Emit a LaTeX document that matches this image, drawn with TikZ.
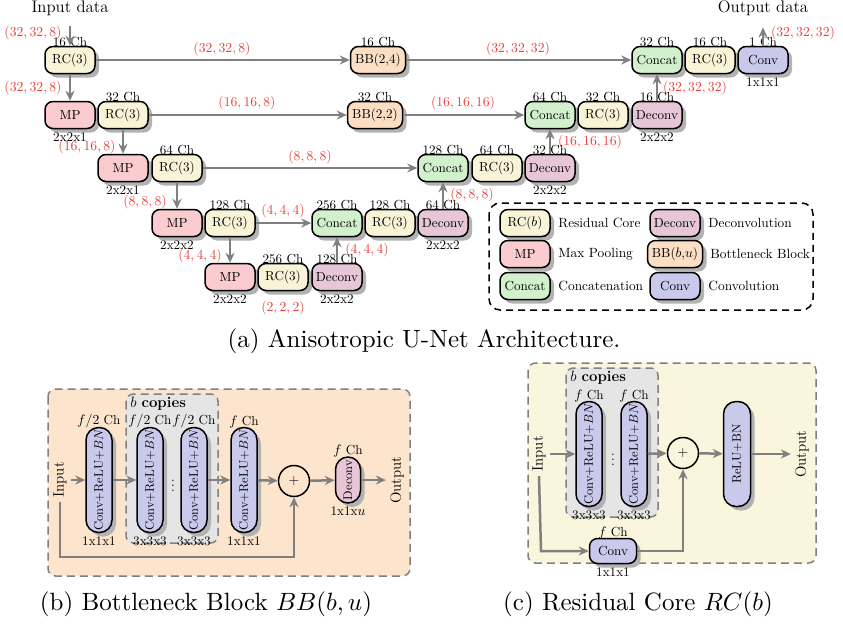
\documentclass[tikz,border=0pt]{standalone}
\usetikzlibrary{arrows.meta}
\usetikzlibrary{shadows}

% colours of the blocks
\definecolor{rccol}{RGB}{249,243,215}
\definecolor{mpcol}{RGB}{250,203,207}
\definecolor{bbcol}{RGB}{252,222,196}
\definecolor{catcol}{RGB}{211,240,205}
\definecolor{deccol}{RGB}{231,199,215}
\definecolor{convcol}{RGB}{201,201,236}
\definecolor{flowgray}{RGB}{128,128,128}
\definecolor{sizered}{RGB}{232,64,60}
\definecolor{bbpanel}{RGB}{252,228,205}
\definecolor{rcpanel}{RGB}{250,245,221}
\definecolor{copiesgray}{RGB}{229,229,229}

\newcommand{\nodefont}{\fontsize{10.5}{12}\selectfont}
\newcommand{\notefont}{\fontsize{10.7}{12.5}\selectfont}
\newcommand{\datafont}{\fontsize{13.4}{15}\selectfont}
\newcommand{\panelfont}{\fontsize{12}{14}\selectfont}

\tikzset{
%Define standard arrow tip
>={Stealth[length=8pt,width=7.2pt]},
%Define styles for the blocks
block/.style={draw, line width=1.2pt, rounded corners=6.4pt, minimum width=40pt,
  minimum height=21.6pt, inner sep=1pt, font=\nodefont,
  drop shadow={shadow xshift=3.2pt, shadow yshift=-3.2pt, fill=black!30, opacity=1}},
rcblock/.style={block, fill=rccol},
mpblock/.style={block, fill=mpcol},
bbblock/.style={block, fill=bbcol, minimum width=44pt},
catblock/.style={block, fill=catcol},
decblock/.style={block, fill=deccol},
convblock/.style={block, fill=convcol},
tallblock/.style={block, fill=convcol, minimum width=20.8pt, minimum height=84pt, rounded corners=10pt, font=\fontsize{10}{12}\selectfont},
%Define style for the labels
ch/.style={label={[label distance=-4.4pt, font=\nodefont]above:#1}},
kern/.style={label={[label distance=-1pt, font=\nodefont]below:#1}},
size/.style={text=sizered, font=\notefont},
note/.style={font=\notefont, anchor=west},
dots/.style={font=\nodefont, inner sep=0pt},
flow/.style={->, draw=flowgray, line width=2pt},
panel/.style={draw=flowgray, dash pattern=on 6.4pt off 4pt, line width=1.2pt, rounded corners=6pt},
plus/.style={draw, circle, line width=1.2pt, minimum size=24.8pt, inner sep=0pt, font=\nodefont},
}

\begin{document}
\begin{tikzpicture}[x=0.8pt, y=-0.8pt]
\useasboundingbox (0,0) rectangle (843,624);

% input and output
\node[font=\datafont] (indata) at (70,8) {Input data};
\node[font=\datafont] (outdata) at (763,8) {Output data};

% level 1
\node[rcblock, ch=16 Ch] (rc1) at (70,60) {RC(3)};
\node[bbblock, ch=16 Ch] (bb1) at (378,60) {BB(2,4)};
\node[catblock, ch=32 Ch] (cat1) at (657,60) {Concat};
\node[rcblock, ch=16 Ch] (rcup1) at (710,60) {RC(3)};
\node[convblock, ch=1 Ch, kern=1x1x1] (conv1) at (763,60) {Conv};

% level 2
\node[mpblock, kern=2x2x1] (mp2) at (70,115) {MP};
\node[rcblock, ch=32 Ch] (rc2) at (123,115) {RC(3)};
\node[bbblock, ch=32 Ch] (bb2) at (375,115) {BB(2,2)};
\node[catblock, ch=64 Ch] (cat2) at (550,115) {Concat};
\node[rcblock, ch=32 Ch] (rcup2) at (603,115) {RC(3)};
\node[decblock, ch=16 Ch, kern=2x2x2] (dec2) at (657,115) {Deconv};

% level 3
\node[mpblock, kern=2x2x1] (mp3) at (123,168) {MP};
\node[rcblock, ch=64 Ch] (rc3) at (177,168) {RC(3)};
\node[catblock, ch=128 Ch] (cat3) at (443,168) {Concat};
\node[rcblock, ch=64 Ch] (rcup3) at (497,168) {RC(3)};
\node[decblock, ch=32 Ch, kern=2x2x2] (dec3) at (550,168) {Deconv};

% level 4
\node[mpblock, kern=2x2x2] (mp4) at (177,223) {MP};
\node[rcblock, ch=128 Ch] (rc4) at (230,223) {RC(3)};
\node[catblock, ch=256 Ch] (cat4) at (337,223) {Concat};
\node[rcblock, ch=128 Ch] (rcup4) at (390,223) {RC(3)};
\node[decblock, ch=64 Ch, kern=2x2x2] (dec4) at (443,223) {Deconv};

% level 5
\node[mpblock, kern=2x2x2] (mp5) at (230,277) {MP};
\node[rcblock, ch=256 Ch] (rc5) at (283,277) {RC(3)};
\node[decblock, ch=128 Ch, kern=2x2x2] (dec5) at (337,277) {Deconv};

% down and up
\draw[flow, shorten <=5pt] (indata) -- (rc1);
\draw[flow] (rc1) -- (mp2);
\draw[flow] (rc2) -- (mp3);
\draw[flow] (rc3) -- (mp4);
\draw[flow] (rc4) -- (mp5);
\draw[flow] (dec5) -- (cat4);
\draw[flow] (dec4) -- (cat3);
\draw[flow] (dec3) -- (cat2);
\draw[flow] (dec2) -- (cat1);
\draw[flow, shorten >=6pt] (conv1) -- (outdata);

% skip connections
\draw[flow] (rc1) -- (bb1);
\draw[flow] (bb1) -- (cat1);
\draw[flow] (rc2) -- (bb2);
\draw[flow] (bb2) -- (cat2);
\draw[flow] (rc3) -- (cat3);
\draw[flow] (rc4) -- (cat4);

% sizes
\node[size] (s1) at (33,33) {$(32,32,8)$};
\node[size] (s2) at (33,88) {$(32,32,8)$};
\node[size] (s3) at (87,147) {$(16,16,8)$};
\node[size] (s4) at (145,202) {$(8,8,8)$};
\node[size] (s5) at (200,256) {$(4,4,4)$};
\node[size] (s6) at (283,308) {$(2,2,2)$};
\node[size] (s7) at (367,250) {$(4,4,4)$};
\node[size] (s8) at (472,195) {$(8,8,8)$};
\node[size] (s9) at (590,142) {$(16,16,16)$};
\node[size] (s10) at (695,88) {$(32,32,32)$};
\node[size] (s11) at (803,33) {$(32,32,32)$};
\node[size] (s12) at (222,49) {$(32,32,8)$};
\node[size] (s13) at (518,49) {$(32,32,32)$};
\node[size] (s14) at (247,103) {$(16,16,8)$};
\node[size] (s15) at (463,103) {$(16,16,16)$};
\node[size] (s16) at (310,157) {$(8,8,8)$};
\node[size] (s17) at (283,211) {$(4,4,4)$};

% legend
\draw[dash pattern=on 5.6pt off 4pt, line width=1.2pt, rounded corners=9pt] (489,203) rectangle (813,310);
\node[rcblock] (lrc) at (525,223) {RC($b$)};
\node[mpblock] (lmp) at (525,254) {MP};
\node[catblock] (lcat) at (525,286) {Concat};
\node[decblock] (ldec) at (675,223) {Deconv};
\node[bbblock] (lbb) at (675,254) {BB($b$,$u$)};
\node[convblock] (lconv) at (675,286) {Conv};
\node[note] (trc) at (554,223) {Residual Core};
\node[note] (tmp) at (554,254) {Max Pooling};
\node[note] (tcat) at (554,286) {Concatenation};
\node[note] (tdec) at (704,223) {Deconvolution};
\node[note] (tbb) at (706,254) {Bottleneck Block};
\node[note] (tconv) at (704,286) {Convolution};

\node (capa) at (424,341) {\scalebox{2}{(a) Anisotropic U-Net Architecture.}};

% bottleneck block
\draw[panel, fill=bbpanel] (48,389) rectangle (410,576);
\draw[panel, fill=copiesgray] (126,394) rectangle (218,543);
\node[font=\panelfont, anchor=west] (copb) at (126,404) {$b$ \textbf{copies}};
\node[font=\panelfont, rotate=90] (inb) at (60,480) {Input};
\node[tallblock, ch=$f/2$ Ch, kern=1x1x1] (b1) at (99,480) {\rotatebox{90}{Conv+ReLU+$BN$}};
\node[tallblock, ch=$f/2$ Ch, kern=3x3x3] (b2) at (150,480) {\rotatebox{90}{Conv+ReLU+$BN$}};
\node[dots] (dotb) at (173,482) {$\vdots$};
\node[tallblock, ch=$f/2$ Ch, kern=3x3x3] (b3) at (194,480) {\rotatebox{90}{Conv+ReLU+$BN$}};
\node[tallblock, ch=$f$ Ch, kern=1x1x1] (b4) at (244,480) {\rotatebox{90}{Conv+ReLU+$BN$}};
\node[plus] (plusb) at (294,481) {$+$};
\node[tallblock, fill=deccol, minimum height=36.8pt, minimum width=20pt, ch=$f$ Ch, kern=1x1x$u$] (decb) at (348,480) {\rotatebox{90}{Deconv}};
\node[font=\panelfont, rotate=90] (outb) at (397,480) {Output};
\coordinate (skipb) at (60,557);
\draw[flow] (inb) -- (b1);
\draw[flow] (b1) -- (b2);
\draw[flow] (b3) -- (b4);
\draw[flow] (b4) -- (plusb);
\draw[flow] (plusb) -- (decb);
\draw[flow] (decb) -- (outb);
\draw[flow] (inb.west) -- (skipb) -| (plusb);

\node (capb) at (206,604) {\scalebox{2}{(b) Bottleneck Block $BB(b,u)$}};

% residual core
\draw[panel, fill=rcpanel] (528,363) rectangle (816,563);
\draw[panel, fill=copiesgray] (566,368) rectangle (658,517);
\node[font=\panelfont, anchor=west] (copc) at (566,378) {$b$ \textbf{copies}};
\node[font=\panelfont, rotate=90] (inc) at (539,454) {Input};
\node[tallblock, ch=$f$ Ch, kern=3x3x3] (c1) at (589,454) {\rotatebox{90}{Conv+ReLU+$BN$}};
\node[dots] (dotc) at (613,456) {$\vdots$};
\node[tallblock, ch=$f$ Ch, kern=3x3x3] (c2) at (634,454) {\rotatebox{90}{Conv+ReLU+$BN$}};
\node[plus] (plusc) at (683,453) {$+$};
\node[tallblock, minimum width=21.6pt] (reluc) at (737,454) {\rotatebox{90}{ReLU+BN}};
\node[font=\panelfont, rotate=90] (outc) at (802,454) {Output};
\node[convblock, minimum width=37.6pt, minimum height=20pt, ch=$f$ Ch, kern=1x1x1] (convc) at (613,551) {Conv};
\coordinate (skipc) at (541,551);
\draw[flow] (inc) -- (c1);
\draw[flow] (c2) -- (plusc);
\draw[flow] (plusc) -- (reluc);
\draw[flow] (reluc) -- (outc);
\draw[flow] (inc.west) -- (skipc) -- (convc);
\draw[flow] (convc) -| (plusc);

\node (capc) at (638,604) {\scalebox{2}{(c) Residual Core $RC(b)$}};

\end{tikzpicture}
\end{document}
